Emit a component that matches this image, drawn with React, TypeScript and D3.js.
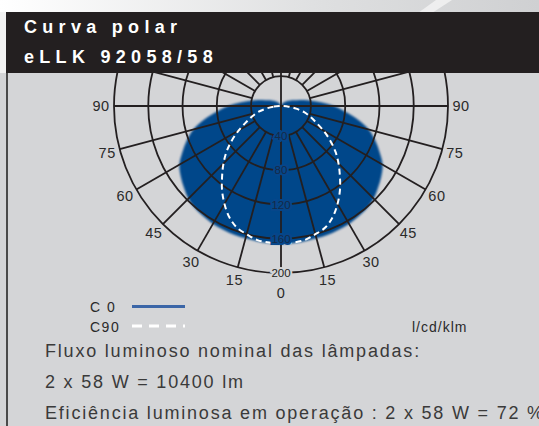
import React from "react";
import * as d3 from "d3";

const W = 539;
const H = 426;

// Photometric data (cd/klm)
const angles = [0, 5, 10, 15, 20, 25, 30, 35, 40, 45, 50, 55, 60, 65, 70, 75, 80, 85, 90,
  95, 100, 105, 110, 115, 120, 125, 130, 135, 140, 145, 150, 155, 160, 165, 170, 175, 180];
const c0Values = [166, 166, 165.5, 165, 165, 164.5, 164, 162.5, 161, 158, 153, 148, 142, 132, 122, 111, 96, 80, 67,
  53, 41, 32, 25, 21, 18, 15.5, 13.8, 12, 10.8, 9.7, 8.5, 7.3, 6.2, 5.5, 5, 5, 5];
const c90Angles = [0, 5, 10, 15, 20, 25, 30, 35, 40, 45, 50, 55, 60, 65, 70, 75, 80, 85, 90];
const c90Values = [165, 165, 164, 160, 156, 148, 137, 125, 112, 100, 88, 75, 62, 50, 41, 33, 23, 14, 7];

const ringValues = [40, 80, 120, 160, 200];
const gridAngles = [0, 15, 30, 45, 60, 75, 90, 105, 120, 135, 150, 165, 180];
const angleLabels = [0, 15, 30, 45, 60, 75, 90];

const titleLines = ["Curva polar", "eLLK 92058/58"];
const legendItems = ["C 0", "C90"];
const unitLabel = "l/cd/klm";
const infoLines = [
  "Fluxo luminoso nominal das lâmpadas:",
  "2 x 58 W = 10400 lm",
  "Eficiência luminosa em operação : 2 x 58 W = 72 %",
];

const INK = "#231f20";
const PANEL = "#d4d5d7";
const BLUE = "#06468a";
const FONT = "'Liberation Sans', Arial, Helvetica, sans-serif";

export default function App() {
  const cx = 281;
  const cy = 106;
  const r = d3.scaleLinear().domain([5, 200]).range([0, 167]).clamp(true);
  const rad = (a: number) => (a * Math.PI) / 180;
  const pt = (a: number, v: number, side: number): [number, number] => [
    cx + side * r(v) * Math.sin(rad(a)),
    cy + r(v) * Math.cos(rad(a)),
  ];

  const c0Pts: [number, number][] = [];
  angles.forEach((a, i) => c0Pts.push(pt(a, c0Values[i], 1)));
  for (let i = angles.length - 2; i > 0; i--) c0Pts.push(pt(angles[i], c0Values[i], -1));
  const closed = d3.line().curve(d3.curveCatmullRomClosed.alpha(0.5));
  const c0Path = closed(c0Pts) || "";

  const c90Pts: [number, number][] = [];
  for (let i = c90Angles.length - 1; i > 0; i--) c90Pts.push(pt(c90Angles[i], c90Values[i], -1));
  c90Angles.forEach((a, i) => c90Pts.push(pt(a, c90Values[i], 1)));
  const c90Path = closed(c90Pts) || "";

  const innerR = r(ringValues[0]);
  const outerR = r(ringValues[ringValues.length - 1]);

  const gridLines: { x1: number; y1: number; x2: number; y2: number }[] = [];
  gridAngles.forEach((a) => {
    const full = a === 0 || a === 90 || a === 180;
    const sides = a === 0 || a === 180 ? [1] : [1, -1];
    sides.forEach((s) => {
      const r0 = full ? 0 : innerR;
      gridLines.push({
        x1: cx + s * r0 * Math.sin(rad(a)),
        y1: cy + r0 * Math.cos(rad(a)),
        x2: cx + s * outerR * Math.sin(rad(a)),
        y2: cy + outerR * Math.cos(rad(a)),
      });
    });
  });

  const labelPos: { x: number; y: number; t: string }[] = [];
  angleLabels.forEach((a) => {
    const lr = a === 0 ? 187 : 180;
    const sides = a === 0 ? [1] : [1, -1];
    sides.forEach((s) =>
      labelPos.push({ x: cx + s * lr * Math.sin(rad(a)), y: cy + lr * Math.cos(rad(a)), t: String(a) })
    );
  });

  return (
    <svg width={W} height={H} style={{ position: "absolute", left: 0, top: 0 }}>
      <defs>
        <linearGradient id="topg" x1="0" y1="0" x2="1" y2="0">
          <stop offset="0" stopColor="#ffffff" />
          <stop offset="0.6" stopColor="#dedfe0" />
          <stop offset="1" stopColor="#cfd0d2" />
        </linearGradient>
        <clipPath id="panelClip">
          <rect x={8} y={72} width={W - 8} height={H - 72} />
        </clipPath>
        <filter id="soft" x="-10%" y="-10%" width="120%" height="120%">
          <feGaussianBlur stdDeviation="1.3" />
        </filter>
      </defs>
      <rect x={0} y={0} width={W} height={H} fill={PANEL} />
      <rect x={0} y={0} width={W} height={13} fill="url(#topg)" />
      <polygon points="418,13 436,0 452,0 432,13" fill="#f4f4f4" opacity={0.8} />
      <rect x={0} y={12} width={6} height={61} fill="#f2f2f2" />
      <line x1={7} y1={72} x2={7} y2={H} stroke="#4a4a4a" strokeWidth={2} />

      <g clipPath="url(#panelClip)">
        <path d={c0Path} fill={BLUE} filter="url(#soft)" />
        {ringValues.map((v) => (
          <circle key={v} cx={cx} cy={cy} r={r(v)} fill="none" stroke={INK} strokeWidth={1.8} />
        ))}
        {gridLines.map((l, i) => (
          <line key={i} {...l} stroke={INK} strokeWidth={1.8} />
        ))}
        <path d={c90Path} fill="none" stroke="#ffffff" strokeWidth={2} strokeDasharray="6 4" />
        {ringValues.map((v) => (
          <text
            key={v}
            x={cx}
            y={cy + r(v)}
            dy="0.36em"
            textAnchor="middle"
            fontFamily={FONT}
            fontSize={11.5}
            fill={v === 200 ? INK : "#152a48"}
            stroke={v === 200 ? PANEL : BLUE}
            strokeWidth={4}
            paintOrder="stroke"
          >
            {v}
          </text>
        ))}
      </g>

      {labelPos.map((l, i) => (
        <text key={i} x={l.x} y={l.y} dy="0.36em" textAnchor="middle" fontFamily={FONT} fontSize={14.5} fill="#2a2a2a" letterSpacing={0.5}>
          {l.t}
        </text>
      ))}

      <rect x={6} y={12} width={W - 6} height={61} fill={INK} />
      {titleLines.map((t, i) => (
        <text key={t} x={24} y={33 + i * 30} fontFamily={FONT} fontWeight="bold" fontSize={18} fill="#ffffff" letterSpacing={5.3}>
          {t}
        </text>
      ))}

      {legendItems.map((t, i) => (
        <text key={t} x={90} y={312 + i * 20} fontFamily={FONT} fontSize={14} fill="#2a2a2a" letterSpacing={1.5}>
          {t}
        </text>
      ))}
      <line x1={132} y1={306.5} x2={185} y2={306.5} stroke="#3b66a7" strokeWidth={3} />
      <line x1={132} y1={326} x2={185} y2={326} stroke="#ffffff" strokeWidth={3} strokeDasharray="10 7" />
      <text x={412} y={332} fontFamily={FONT} fontSize={14} fill="#2a2a2a" letterSpacing={1}>
        {unitLabel}
      </text>

      {infoLines.map((t, i) => (
        <text key={t} x={45} y={357 + i * 31} fontFamily={FONT} fontSize={18} fill="#3a3a3a" letterSpacing={1.8}>
          {t}
        </text>
      ))}
    </svg>
  );
}
